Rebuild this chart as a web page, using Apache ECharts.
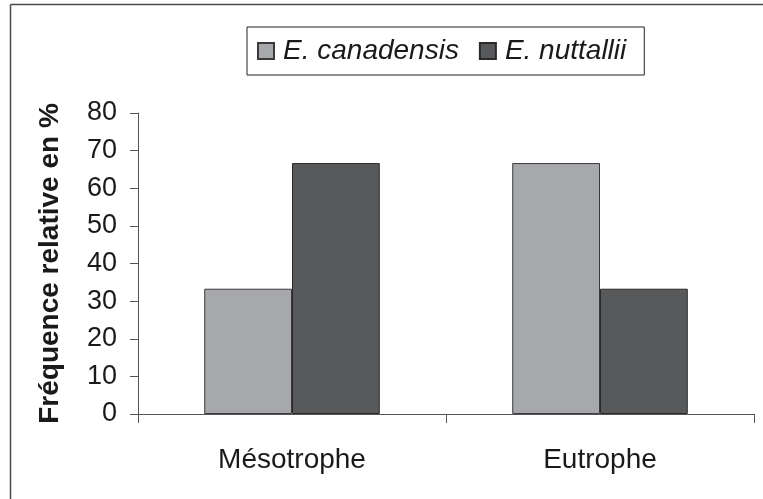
<!DOCTYPE html>
<html>
<head>
<meta charset="utf-8">
<script src="https://cdn.jsdelivr.net/npm/echarts@6/dist/echarts.min.js"></script>
<style>
html,body{margin:0;padding:0;background:#fff;}
#chart{width:763px;height:499px;}
</style>
</head>
<body>
<div id="chart"></div>
<script>
const categories = ['Mésotrophe', 'Eutrophe'];
const seriesNames = ['E. canadensis', 'E. nuttallii'];
const canadensisValues = [33.3, 66.7];
const nuttalliiValues = [66.7, 33.3];
const yTicks = [0, 10, 20, 30, 40, 50, 60, 70, 80];

const FONT = '"Liberation Sans", Arial, Helvetica, sans-serif';
const chart = echarts.init(document.getElementById('chart'), null, {renderer: 'canvas'});
const option = {
  backgroundColor: '#fff',
  animation: false,
  textStyle: {fontFamily: FONT},
  graphic: [
    {type: 'line', shape: {x1: 10.5, y1: 4.5, x2: 763, y2: 4.5}, style: {stroke: '#4a4a4a', lineWidth: 1.5}},
    {type: 'line', shape: {x1: 10.5, y1: 4.5, x2: 10.5, y2: 499}, style: {stroke: '#4a4a4a', lineWidth: 1.5}}
  ],
  legend: {
    left: 247, top: 27,
    data: seriesNames,
    icon: 'rect',
    itemWidth: 16, itemHeight: 16,
    itemGap: 20,
    padding: [10, 18, 10, 10],
    borderColor: '#222', borderWidth: 1,
    textStyle: {fontFamily: FONT, fontSize: 28, fontStyle: 'italic', color: '#1a1a1a', padding: [0, 0, 0, 4]}
  },
  grid: {left: 138, right: 9, top: 113, bottom: 85, containLabel: false},
  xAxis: {
    type: 'category',
    data: categories,
    axisLine: {lineStyle: {color: '#555', width: 1}},
    axisTick: {show: true, length: 9, lineStyle: {color: '#555'}},
    axisLabel: {fontFamily: FONT, fontSize: 28, color: '#1a1a1a', margin: 32}
  },
  yAxis: {
    type: 'value',
    min: yTicks[0], max: yTicks[yTicks.length - 1], interval: 10,
    name: 'Fréquence relative en %',
    nameLocation: 'middle',
    nameGap: 74,
    nameRotate: 90,
    nameTextStyle: {fontFamily: FONT, fontSize: 28, fontWeight: 'bold', color: '#1a1a1a'},
    axisLine: {show: true, lineStyle: {color: '#555', width: 1}},
    axisTick: {show: true, length: 8, lineStyle: {color: '#555'}},
    splitLine: {show: false},
    axisLabel: {fontFamily: FONT, fontSize: 27, color: '#1a1a1a', margin: 21}
  },
  series: [
    {
      name: seriesNames[0], type: 'bar', data: canadensisValues,
      barGap: '0%', barCategoryGap: '43%',
      itemStyle: {color: '#a7a8ab', borderColor: '#3a3a3a', borderWidth: 1}
    },
    {
      name: seriesNames[1], type: 'bar', data: nuttalliiValues,
      itemStyle: {color: '#58595b', borderColor: '#2a2a2a', borderWidth: 1}
    }
  ]
};
chart.setOption(option);
</script>
</body>
</html>
